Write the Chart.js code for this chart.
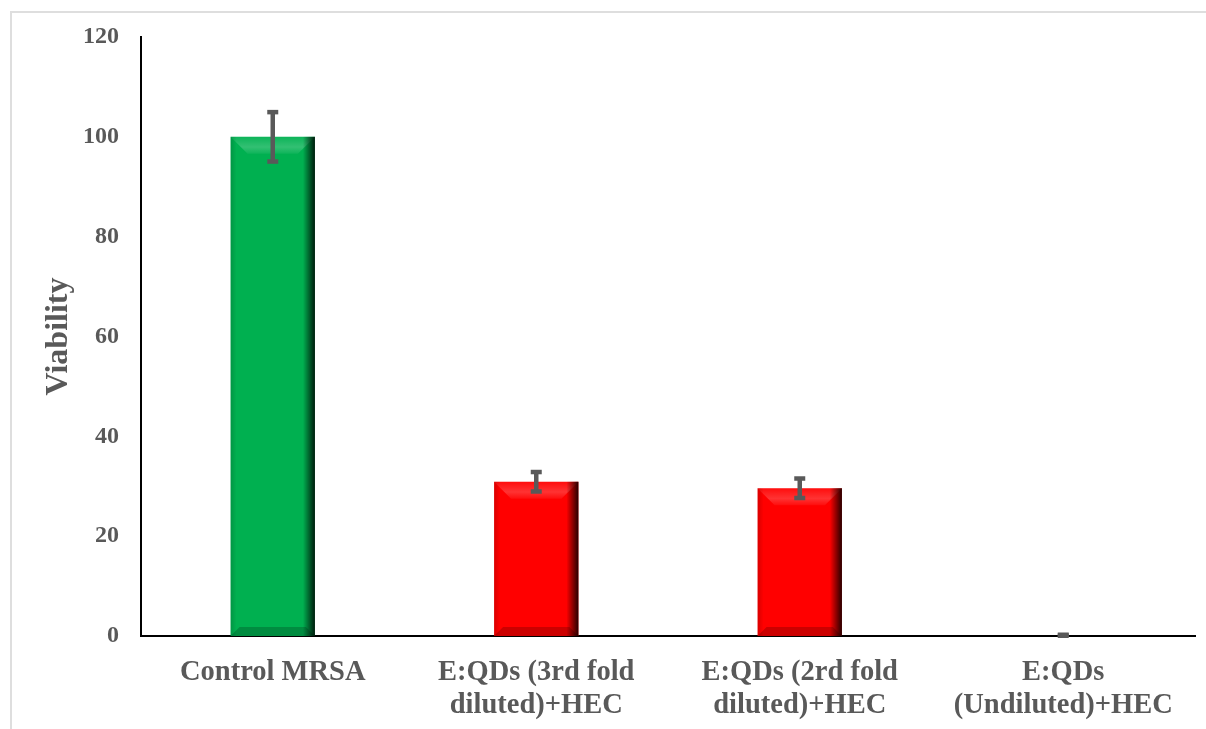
<!DOCTYPE html>
<html>
<head>
<meta charset="utf-8">
<script src="https://cdn.jsdelivr.net/npm/chart.js@4"></script>
<style>
    html, body { margin: 0; padding: 0; background: #fff; }
    #wrap { position: relative; width: 1206px; height: 729px; overflow: hidden; }
    #frame { position: absolute; left: 10px; top: 11px; width: 1300px; height: 800px;
             border-top: 2px solid #dedede; border-left: 2px solid #dedede; }
    canvas { position: absolute; left: 0; top: 0; }
</style>
</head>
<body>
<div id="wrap">
    <div id="frame"></div>
    <canvas id="viabilityChart" width="1206" height="729"></canvas>
</div>
<script>
const categories = [
    ['Control MRSA'],
    ['E:QDs (3rd fold', 'diluted)+HEC'],
    ['E:QDs (2rd fold', 'diluted)+HEC'],
    ['E:QDs', '(Undiluted)+HEC']
];
const viability = [100, 30.9, 29.6, 0];
const viabilityErr = [5, 2, 2, 0.3];
const barColors = ['#00b050', '#ff0000', '#ff0000', '#ff0000'];
const yTicks = [0, 20, 40, 60, 80, 100, 120];

const FONT = '"Times New Roman", "Liberation Serif", serif';
const TEXT = '#595959';

// bevelled look like the office chart
const bevelPlugin = {
    id: 'bevel',
    afterDatasetDraw(chart, args) {
        const ctx = chart.ctx;
        args.meta.data.forEach(bar => {
            const h = bar.base - bar.y;
            if (h < 2) return;
            const l = bar.x - bar.width / 2, r = bar.x + bar.width / 2;
            const t = bar.y, b = bar.base;
            const bv = Math.min(17, h / 3);
            ctx.save();
            // top band lighter, fading down
            const gt = ctx.createLinearGradient(0, t, 0, t + bv);
            gt.addColorStop(0, 'rgba(255,255,255,0.05)');
            gt.addColorStop(0.6, 'rgba(255,255,255,0.2)');
            gt.addColorStop(1, 'rgba(255,255,255,0.05)');
            ctx.beginPath();
            ctx.moveTo(l, t); ctx.lineTo(r, t); ctx.lineTo(r - bv, t + bv); ctx.lineTo(l + bv, t + bv);
            ctx.closePath();
            ctx.fillStyle = gt;
            ctx.fill();
            // bottom band darker
            const bb = Math.min(9, h / 4);
            ctx.beginPath();
            ctx.moveTo(l, b); ctx.lineTo(r, b); ctx.lineTo(r - bb, b - bb); ctx.lineTo(l + bb, b - bb);
            ctx.closePath();
            ctx.fillStyle = 'rgba(0,0,0,0.2)';
            ctx.fill();
            // right edge shadow
            const g = ctx.createLinearGradient(r - 12, 0, r, 0);
            g.addColorStop(0, 'rgba(0,0,0,0)');
            g.addColorStop(1, 'rgba(0,0,0,0.85)');
            ctx.fillStyle = g;
            ctx.fillRect(r - 12, t, 12, h);
            // left edge slight shade
            const g2 = ctx.createLinearGradient(l, 0, l + 6, 0);
            g2.addColorStop(0, 'rgba(0,0,0,0.15)');
            g2.addColorStop(1, 'rgba(0,0,0,0)');
            ctx.fillStyle = g2;
            ctx.fillRect(l, t, 6, h);
            ctx.restore();
        });
    }
};

const errorBarPlugin = {
    id: 'errorBars',
    afterDatasetsDraw(chart) {
        const ctx = chart.ctx;
        const yScale = chart.scales.y;
        const meta = chart.getDatasetMeta(0);
        ctx.save();
        ctx.strokeStyle = '#595959';
        ctx.fillStyle = '#595959';
        meta.data.forEach((bar, i) => {
            const v = viability[i], e = viabilityErr[i];
            const yTop = yScale.getPixelForValue(v + e);
            const yBot = yScale.getPixelForValue(Math.max(0, v - e));
            ctx.lineWidth = 4.5;
            ctx.beginPath();
            ctx.moveTo(bar.x, yTop);
            ctx.lineTo(bar.x, yBot);
            ctx.stroke();
            ctx.fillRect(bar.x - 5.5, yTop - 2, 11, 4.5);
            ctx.fillRect(bar.x - 5.5, yBot - 2.5, 11, 4.5);
        });
        ctx.restore();
    }
};

new Chart(document.getElementById('viabilityChart'), {
    type: 'bar',
    data: {
        labels: categories,
        datasets: [{
            data: viability,
            backgroundColor: barColors,
            borderWidth: 0,
            barPercentage: 0.32,
            categoryPercentage: 1
        }]
    },
    options: {
        responsive: false,
        animation: false,
        layout: { padding: { top: 37, right: 11, bottom: 0, left: 0 } },
        plugins: {
            legend: { display: false },
            tooltip: { enabled: false }
        },
        scales: {
            x: {
                grid: { display: false, drawTicks: false },
                border: { display: true, color: '#000', width: 2 },
                ticks: {
                    padding: 21,
                    color: TEXT,
                    maxRotation: 0,
                    autoSkip: false,
                    font: { family: FONT, size: 28.5, weight: 'bold', lineHeight: 1.13 }
                },
                afterFit(scale) { scale.height = 93; }
            },
            y: {
                min: 0,
                max: 120,
                afterBuildTicks(scale) { scale.ticks = yTicks.map(v => ({ value: v })); },
                grid: { display: false, drawTicks: false },
                border: { display: true, color: '#000', width: 2 },
                ticks: {
                    padding: 22,
                    color: TEXT,
                    font: { family: FONT, size: 24, weight: 'bold' }
                },
                title: {
                    display: true,
                    text: 'Viability',
                    color: TEXT,
                    padding: { top: 40, bottom: 0 },
                    font: { family: FONT, size: 32, weight: 'bold', lineHeight: 1.2 }
                },
                afterFit(scale) { scale.width = 141; }
            }
        }
    },
    plugins: [bevelPlugin, errorBarPlugin]
});
</script>
</body>
</html>
